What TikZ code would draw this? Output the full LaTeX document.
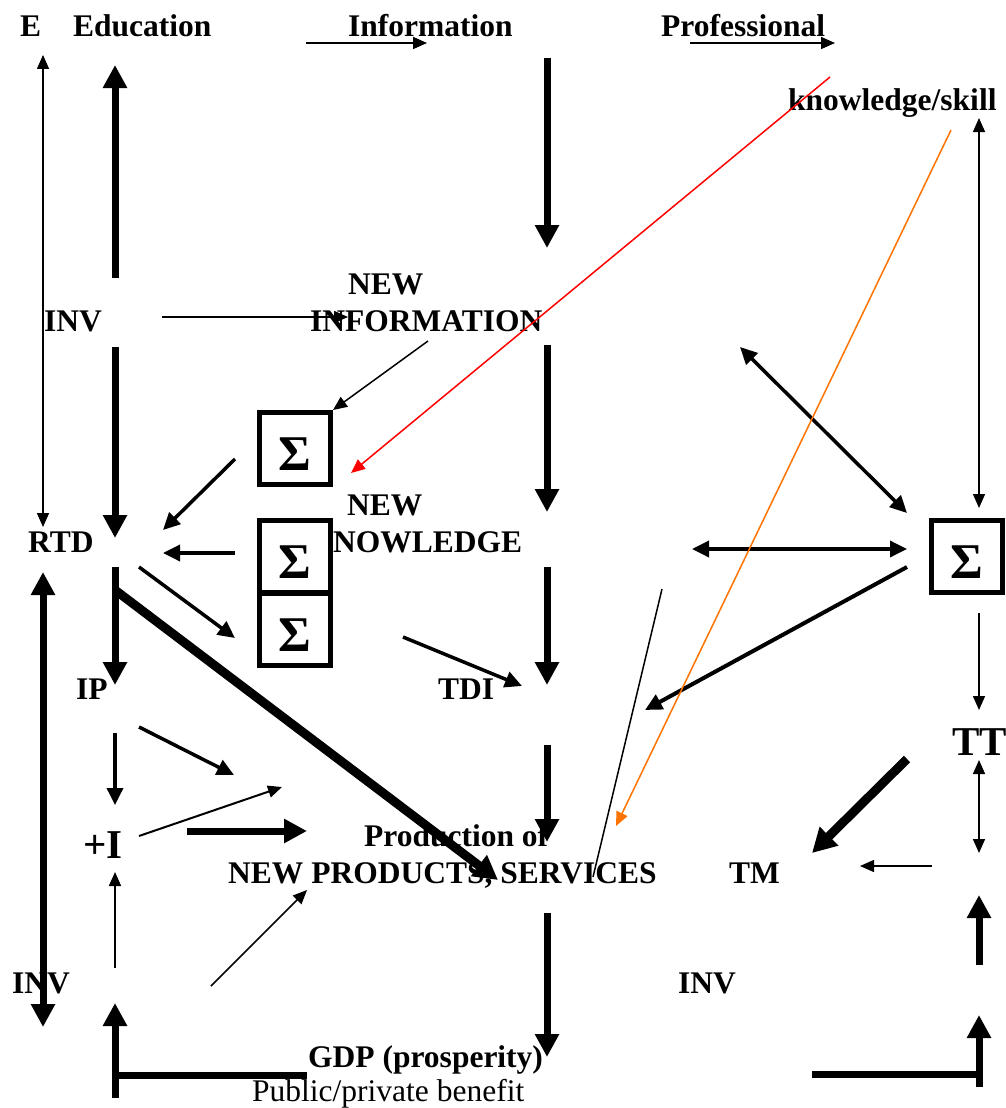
\documentclass[tikz,border=0pt]{standalone}
\usepackage{fontspec}
\setmainfont{Liberation Serif}
\usetikzlibrary{arrows.meta}

\tikzset{
  lbl/.style={font=\fontsize{31.5}{36}\selectfont\bfseries, inner sep=0pt, anchor=base west},
  biglbl/.style={lbl, font=\fontsize{41}{46}\selectfont\bfseries},
  sumbox/.style={draw, line width=5pt, minimum width=71pt, minimum height=72pt, inner sep=0pt,
    text height=44pt, text depth=0pt, font=\fontsize{50}{54}\selectfont\bfseries},
  thinarr/.style={line width=1.5pt, >={Triangle[length=14pt,width=12pt]}},
  midarr/.style={line width=3.5pt, >={Triangle[length=17pt,width=16pt]}},
  fatarr/.style={line width=7pt, >={Triangle[length=23pt,width=23pt]}},
  hugearr/.style={line width=9pt, >={Triangle[length=24pt,width=25pt]}},
}

\begin{document}
\begin{tikzpicture}[x=1pt, y=-1pt]
    \useasboundingbox (0,0) rectangle (1006,1108);

    % labels
    \node[lbl] (e) at (20,37) {E};
    \node[lbl] (edu) at (73,37) {Education};
    \node[lbl] (info) at (348,37) {Information};
    \node[lbl] (prof) at (661,37) {Professional};
    \node[lbl] (know) at (788,110) {knowledge/skill};
    \node[lbl] (newinfoA) at (348,294) {NEW};
    \node[lbl] (newinfoB) at (310,331) {INFORMATION};
    \node[lbl] (invA) at (44,331) {INV};
    \node[lbl] (newknowA) at (347,515) {NEW};
    \node[lbl] (newknowB) at (333,552) {NOWLEDGE};
    \node[lbl] (rtd) at (28,552) {RTD};
    \node[lbl] (ip) at (76,699) {IP};
    \node[lbl] (tdi) at (438,699) {TDI};
    \node[biglbl] (plusi) at (83,858) {+I};
    \node[lbl] (prodA) at (364,846) {Production of};
    \node[lbl] (prodB) at (228,883) {NEW PRODUCTS, SERVICES};
    \node[lbl] (tm) at (729,883) {TM};
    \node[biglbl] (tt) at (952,755) {TT};
    \node[lbl] (invB) at (12,993) {INV};
    \node[lbl] (invC) at (678,993) {INV};
    \node[lbl] (gdp) at (308,1067) {GDP (prosperity)};
    \node[lbl, font=\fontsize{31.5}{36}\selectfont] (benefit) at (252,1101) {Public/private benefit};

    % sum boxes
    \node[sumbox] (sumA) at (295,448.5) {Σ};
    \node[sumbox] (sumB) at (295,556) {Σ};
    \node[sumbox] (sumC) at (295,629) {Σ};
    \node[sumbox] (sumR) at (967,556.5) {Σ};

    % arrow ends
    \coordinate (infoS) at (306,43);   \coordinate (infoT) at (427,43);
    \coordinate (profS) at (690,43);   \coordinate (profT) at (835,43);
    \coordinate (eTop) at (43,55);     \coordinate (eBot) at (43,527);
    \coordinate (eduS) at (115,278);   \coordinate (eduT) at (115,65);
    \coordinate (colA) at (547,58);    \coordinate (colB) at (547,248);
    \coordinate (colC) at (547,345);   \coordinate (colD) at (547,512);
    \coordinate (colE) at (547,567);   \coordinate (colF) at (547,685);
    \coordinate (colG) at (547,745);   \coordinate (colH) at (547,842);
    \coordinate (colI) at (547,913);   \coordinate (colJ) at (547,1057);
    \coordinate (invS) at (162,317);   \coordinate (invT) at (348,317);
    \coordinate (rtdA) at (115,347);   \coordinate (rtdB) at (115,538);
    \coordinate (rtdC) at (115,567);   \coordinate (rtdD) at (115,685);
    \coordinate (niS) at (428,341);
    \coordinate (redS) at (830,77);    \coordinate (redT) at (351,473);
    \coordinate (orgS) at (951,130);   \coordinate (orgT) at (616,826);
    \coordinate (ksTop) at (979,118);  \coordinate (ksBot) at (979,508);
    \coordinate (dgA) at (740,347);    \coordinate (dgB) at (907,513);
    \coordinate (hzA) at (692,549);    \coordinate (hzB) at (907,549);
    \coordinate (sAS) at (235,459);    \coordinate (sAT) at (163,530);
    \coordinate (sBS) at (235,553);    \coordinate (sBT) at (163,553);
    \coordinate (sCS) at (139,567);    \coordinate (sCT) at (235,638);
    \coordinate (diagS) at (115,590);  \coordinate (diagT) at (498,880);
    \coordinate (tdiS) at (403,637);   \coordinate (tdiT) at (522,686);
    \coordinate (sRS) at (907,567);    \coordinate (sRT) at (645,710);
    \coordinate (sRD) at (979,613);    \coordinate (ttTop) at (979,710);
    \coordinate (lnA) at (662,589);    \coordinate (lnB) at (593,877);
    \coordinate (ttA) at (979,760);    \coordinate (ttB) at (979,853);
    \coordinate (tmS) at (907,759);    \coordinate (tmT) at (812,853);
    \coordinate (tmR) at (932,866);    \coordinate (tmL) at (860,866);
    \coordinate (rUpS) at (979,965);   \coordinate (rUpT) at (979,895);
    \coordinate (ipS) at (115,733);    \coordinate (ipT) at (115,805);
    \coordinate (ipDS) at (139,727);   \coordinate (ipDT) at (234,775);
    \coordinate (piS) at (139,836);    \coordinate (piT) at (282,787);
    \coordinate (piFS) at (187,831);   \coordinate (piFT) at (307,831);
    \coordinate (upS) at (115,968);    \coordinate (upT) at (115,872);
    \coordinate (invDS) at (211,986);  \coordinate (invDT) at (307,890);
    \coordinate (lfTop) at (43,572);   \coordinate (lfBot) at (43,1027);
    \coordinate (blS) at (115,1098);   \coordinate (blT) at (115,1003);
    \coordinate (blL) at (115,1075);   \coordinate (blR) at (307,1075);
    \coordinate (brL) at (812,1074);   \coordinate (brR) at (979,1074);
    \coordinate (brS) at (979,1087);   \coordinate (brT) at (979,1015);

    % top row
    \draw[thinarr,->] (infoS) -- (infoT);
    \draw[thinarr,->] (profS) -- (profT);
    \draw[thinarr,<->] (eTop) -- (eBot);
    \draw[fatarr,->] (eduS) -- (eduT);
    \draw[thinarr,<->] (ksTop) -- (ksBot);

    % middle column
    \draw[fatarr,->] (colA) -- (colB);
    \draw[fatarr,->] (colC) -- (colD);
    \draw[fatarr,->] (colE) -- (colF);
    \draw[fatarr,->] (colG) -- (colH);
    \draw[fatarr,->] (colI) -- (colJ);

    % left column
    \draw[thinarr,->] (invS) -- (invT);
    \draw[fatarr,->] (rtdA) -- (rtdB);
    \draw[fatarr,->] (rtdC) -- (rtdD);
    \draw[thinarr,->] (niS) -- (sumA.north east);
    \draw[midarr,->] (sAS) -- (sAT);
    \draw[midarr,->] (sBS) -- (sBT);
    \draw[midarr,->] (sCS) -- (sCT);
    \draw[hugearr,->] (diagS) -- (diagT);
    \draw[midarr,->] (tdiS) -- (tdiT);
    \draw[midarr,->] (ipS) -- (ipT);
    \draw[midarr,->] (ipDS) -- (ipDT);
    \draw[thinarr,line width=2pt,->] (piS) -- (piT);
    \draw[fatarr,->] (piFS) -- (piFT);
    \draw[thinarr,->] (upS) -- (upT);
    \draw[thinarr,->] (invDS) -- (invDT);
    \draw[fatarr,<->] (lfTop) -- (lfBot);
    \draw[fatarr,->] (blS) -- (blT);
    \draw[fatarr] (blL) -- (blR);

    % right side
    \draw[midarr,<->] (dgA) -- (dgB);
    \draw[midarr,<->] (hzA) -- (hzB);
    \draw[midarr,line width=4pt,->] (sRS) -- (sRT);
    \draw[thinarr,->] (sRD) -- (ttTop);
    \draw[thinarr] (lnA) -- (lnB);
    \draw[thinarr,<->] (ttA) -- (ttB);
    \draw[hugearr,->] (tmS) -- (tmT);
    \draw[thinarr,->] (tmR) -- (tmL);
    \draw[fatarr,->] (rUpS) -- (rUpT);
    \draw[fatarr] (brL) -- (brR);
    \draw[fatarr,->] (brS) -- (brT);

    % red and orange
    \draw[thinarr,red,->] (redS) -- (redT);
    \draw[thinarr,orange!90!red,->] (orgS) -- (orgT);
\end{tikzpicture}
\end{document}
